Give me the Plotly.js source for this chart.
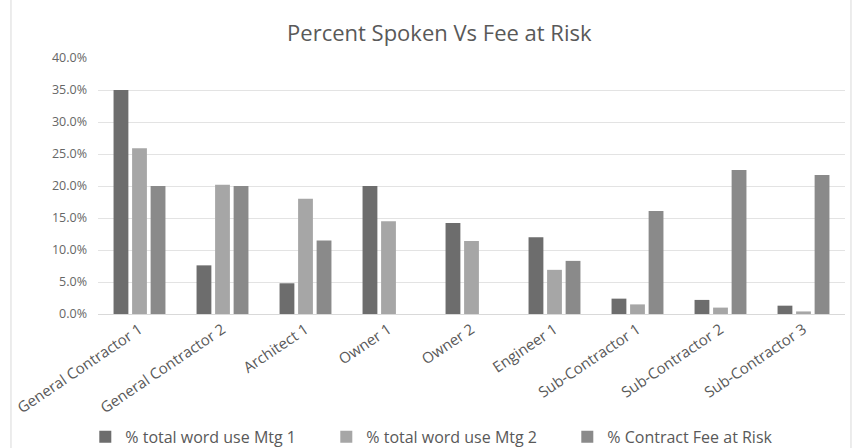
<!DOCTYPE html>
<html>
<head>
<meta charset="utf-8">
<script src="https://cdn.plot.ly/plotly-3.0.1.min.js"></script>
<style>html,body{margin:0;padding:0;background:#fff;}#chart{width:853px;height:448px;}</style>
</head>
<body>
<div id="chart"></div>
<script>
const categories = ["General Contractor 1","General Contractor 2","Architect 1","Owner 1","Owner 2","Engineer 1","Sub-Contractor 1","Sub-Contractor 2","Sub-Contractor 3"];
const mtg1 = [35.0, 7.6, 4.8, 20.0, 14.2, 12.0, 2.4, 2.2, 1.3];
const mtg2 = [25.9, 20.2, 18.0, 14.5, 11.4, 6.9, 1.5, 1.0, 0.4];
const fee = [20.0, 20.0, 11.5, 0.0, 0.0, 8.3, 16.1, 22.5, 21.7];
const seriesNames = ["% total word use Mtg 1","% total word use Mtg 2","% Contract Fee at Risk"];
const yTicks = [0,5,10,15,20,25,30,35,40];

const colors = ["#6d6d6d","#a6a6a6","#8a8a8a"];
const data = [mtg1, mtg2, fee].map((vals, i) => ({
  type: 'bar', x: categories, y: vals, name: seriesNames[i],
  marker: {color: colors[i]}, hoverinfo: 'none'
}));

const layout = {
  width: 853, height: 448,
  margin: {l: 98, r: 8, t: 58, b: 134},
  paper_bgcolor: '#fff', plot_bgcolor: '#fff',
  font: {family: 'Open Sans, Liberation Sans, sans-serif', color: '#595959'},
  title: {text: 'Percent Spoken Vs Fee at Risk', x: 0.515, xanchor: 'center', y: 0.926, yanchor: 'middle',
          font: {size: 22, color: '#595959', family: 'Open Sans, Liberation Sans, sans-serif'}},
  barmode: 'group', bargap: 0.33, bargroupgap: 0.2,
  xaxis: {tickangle: -34, tickfont: {size: 15, color: '#595959'}, showline: true, linecolor: '#d9d9d9',
          ticks: '', showgrid: false, automargin: false},
  yaxis: {range: [0, 40], tickvals: yTicks, ticktext: yTicks.map(v => v.toFixed(1) + '%'),
          tickfont: {size: 12.5, color: '#666666'}, gridcolor: '#e3e3e3', zeroline: false, showline: false,
          ticks: '', ticklabelstandoff: 10, automargin: false},
  legend: {orientation: 'h', xref: 'container', x: 0.1, xanchor: 'left', yref: 'container', y: 0.025, yanchor: 'middle',
           font: {size: 16, color: '#595959'}, itemwidth: 30, traceorder: 'normal',
           entrywidth: 196, entrywidthmode: 'pixels',
           bgcolor: 'rgba(0,0,0,0)'},
  shapes: [{type: 'rect', xref: 'paper', yref: 'paper', x0: -0.1165, x1: 1.008, y0: -1, y1: 2,
            line: {color: '#d9d9d9', width: 1}, fillcolor: 'rgba(0,0,0,0)'}]
};

Plotly.newPlot('chart', data, layout, {displayModeBar: false, staticPlot: true});
</script>
</body>
</html>
